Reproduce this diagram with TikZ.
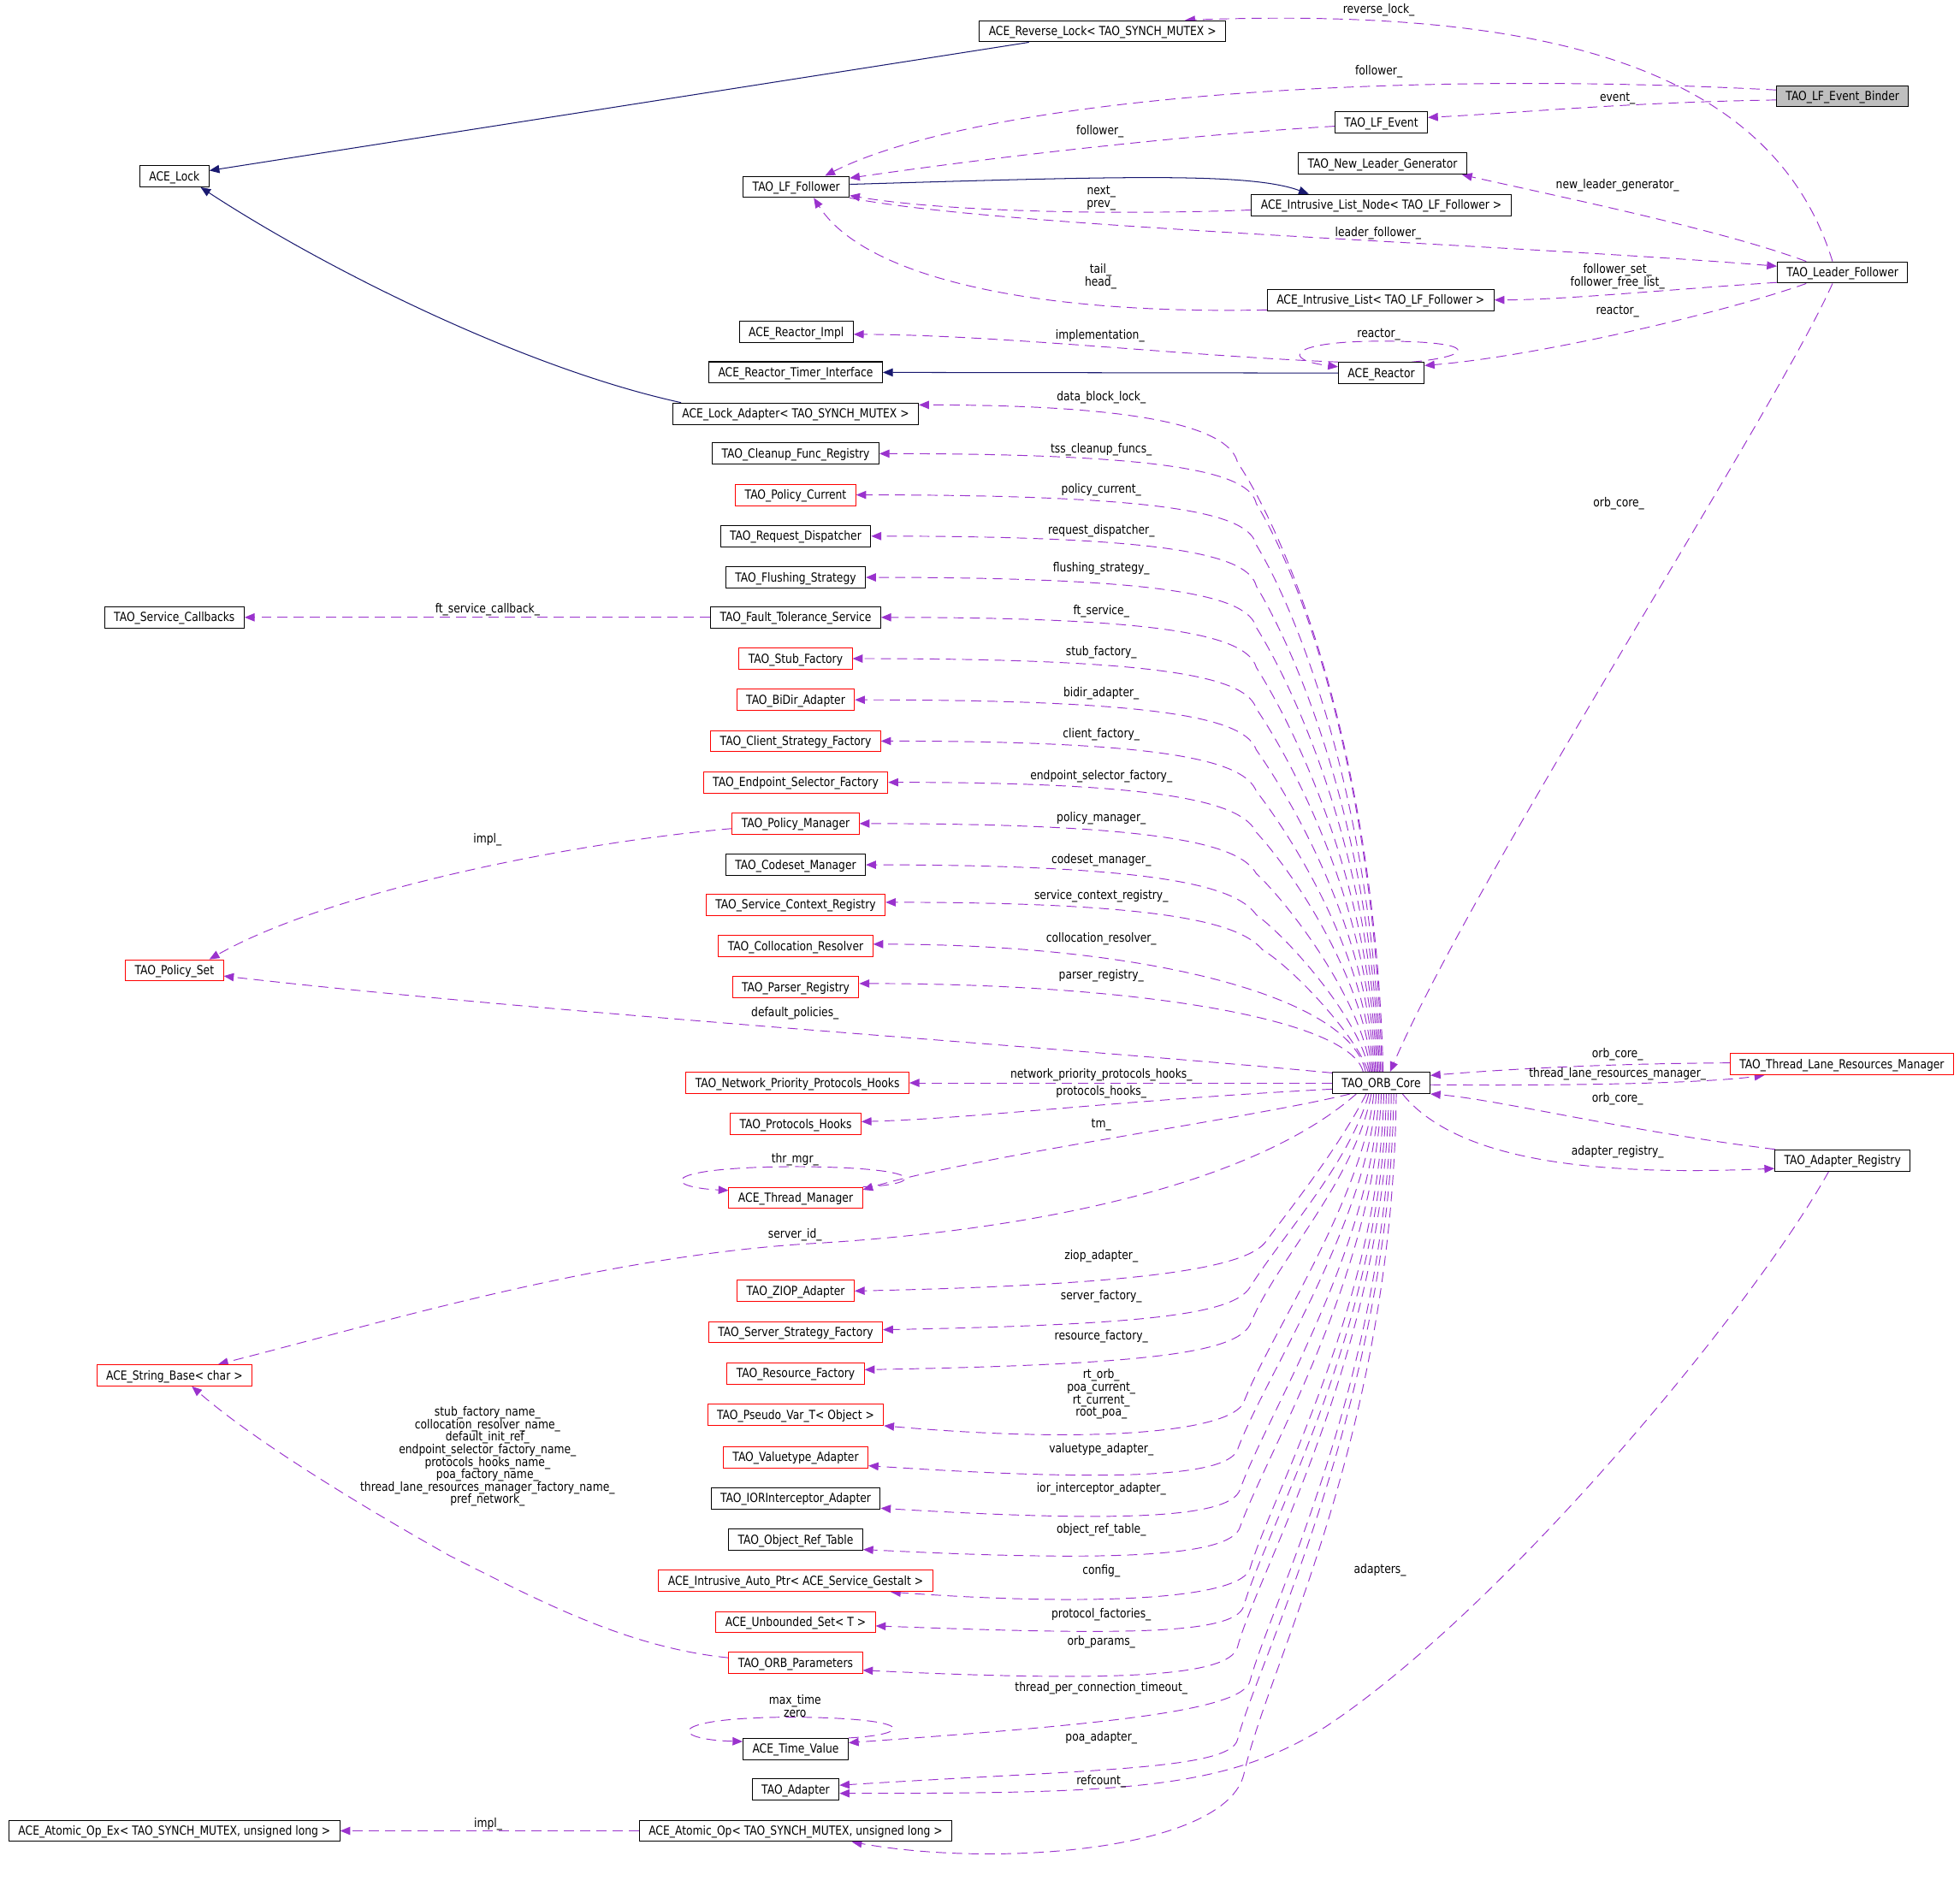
\documentclass[tikz,border=0pt]{standalone}
\usepackage{fontspec}
\setmainfont{DejaVu Sans}[FakeStretch=0.844]
\usetikzlibrary{arrows.meta}
\pgfdeclarelayer{bg}
\pgfsetlayers{bg,main}
\definecolor{membcolor}{HTML}{9A32CD}
\definecolor{inhcolor}{HTML}{191970}
\definecolor{bindergray}{HTML}{BFBFBF}
\tikzset{
  cls/.style={draw=black, fill=white, line width=0.7pt, inner xsep=7.5pt, inner ysep=0pt,
    minimum height=17pt, text height=8.5pt, text depth=1.5pt, font=\fontsize{10}{10}\selectfont},
  redcls/.style={cls, draw=red},
  lbl/.style={inner sep=0pt, align=center, font=\fontsize{10}{10}\selectfont},
  memb/.style={draw=membcolor, line width=0.65pt, dash pattern=on 8pt off 5pt,
    -{Triangle[length=8pt,width=6.5pt]}},
  inh/.style={draw=inhcolor, line width=0.7pt, -{Triangle[length=8pt,width=6.5pt]}},
}
\begin{document}
\begin{tikzpicture}[x=1pt, y=-1pt]
        \useasboundingbox (0,0) rectangle (1568,1509);
        % classes, top part
        \node[cls] (revlock) at (882,25) {ACE\_Reverse\_Lock< TAO\_SYNCH\_MUTEX >};
        \node[cls, fill=bindergray] (binder) at (1474,77) {TAO\_LF\_Event\_Binder};
        \node[cls] (lfevent) at (1105,98) {TAO\_LF\_Event};
        \node[cls] (newleader) at (1106,131) {TAO\_New\_Leader\_Generator};
        \node[cls] (acelock) at (139.5,141) {ACE\_Lock};
        \node[cls] (follower) at (637,149.5) {TAO\_LF\_Follower};
        \node[cls] (listnode) at (1105,164) {ACE\_Intrusive\_List\_Node< TAO\_LF\_Follower >};
        \node[cls] (leader) at (1474,218) {TAO\_Leader\_Follower};
        \node[cls] (flist) at (1104.5,240) {ACE\_Intrusive\_List< TAO\_LF\_Follower >};
        \node[cls] (reactorimpl) at (637,265.5) {ACE\_Reactor\_Impl};
        \node[cls] (timer) at (636.5,298) {ACE\_Reactor\_Timer\_Interface};
        \node[cls] (reactor) at (1105,298.5) {ACE\_Reactor};
        % members of the ORB core
        \node[cls] (lockadapter) at (636.5,331) {ACE\_Lock\_Adapter< TAO\_SYNCH\_MUTEX >};
        \node[cls] (cleanup) at (636.5,363) {TAO\_Cleanup\_Func\_Registry};
        \node[redcls] (policycur) at (636.5,396) {TAO\_Policy\_Current};
        \node[cls] (reqdisp) at (636.5,429) {TAO\_Request\_Dispatcher};
        \node[cls] (flushing) at (636.5,462) {TAO\_Flushing\_Strategy};
        \node[cls] (ftservice) at (636.5,494) {TAO\_Fault\_Tolerance\_Service};
        \node[cls] (callbacks) at (139.5,494) {TAO\_Service\_Callbacks};
        \node[redcls] (stubfac) at (636.5,527) {TAO\_Stub\_Factory};
        \node[redcls] (bidir) at (636.5,560) {TAO\_BiDir\_Adapter};
        \node[redcls] (clientfac) at (636.5,593) {TAO\_Client\_Strategy\_Factory};
        \node[redcls] (endpoint) at (636.5,626) {TAO\_Endpoint\_Selector\_Factory};
        \node[redcls] (policymgr) at (636.5,659) {TAO\_Policy\_Manager};
        \node[cls] (codeset) at (636.5,692) {TAO\_Codeset\_Manager};
        \node[redcls] (svcctx) at (636.5,724) {TAO\_Service\_Context\_Registry};
        \node[redcls] (colloc) at (636.5,757) {TAO\_Collocation\_Resolver};
        \node[redcls] (parser) at (636.5,790) {TAO\_Parser\_Registry};
        \node[redcls] (policyset) at (139.5,776.5) {TAO\_Policy\_Set};
        \node[redcls] (nph) at (638,866.5) {TAO\_Network\_Priority\_Protocols\_Hooks};
        \node[cls] (core) at (1105,866.5) {TAO\_ORB\_Core};
        \node[redcls] (tlrm) at (1473.5,851.5) {TAO\_Thread\_Lane\_Resources\_Manager};
        \node[cls] (registry) at (1474,928.5) {TAO\_Adapter\_Registry};
        \node[redcls] (phooks) at (636.5,899.5) {TAO\_Protocols\_Hooks};
        \node[redcls] (thrmgr) at (636.5,958.5) {ACE\_Thread\_Manager};
        \node[redcls] (ziop) at (636.5,1033) {TAO\_ZIOP\_Adapter};
        \node[redcls] (serverfac) at (636.5,1066) {TAO\_Server\_Strategy\_Factory};
        \node[redcls] (resfac) at (636.5,1099) {TAO\_Resource\_Factory};
        \node[redcls] (pseudo) at (636.5,1132) {TAO\_Pseudo\_Var\_T< Object >};
        \node[redcls] (valuetype) at (636.5,1166) {TAO\_Valuetype\_Adapter};
        \node[cls] (iorint) at (636.5,1199) {TAO\_IORInterceptor\_Adapter};
        \node[cls] (ortable) at (636.5,1232) {TAO\_Object\_Ref\_Table};
        \node[redcls] (autoptr) at (636.5,1265) {ACE\_Intrusive\_Auto\_Ptr< ACE\_Service\_Gestalt >};
        \node[redcls] (uset) at (636.5,1298) {ACE\_Unbounded\_Set< T >};
        \node[redcls] (orbparams) at (636.5,1330.5) {TAO\_ORB\_Parameters};
        \node[redcls] (strbase) at (139.5,1100.5) {ACE\_String\_Base< char >};
        \node[cls] (timevalue) at (636.5,1399.5) {ACE\_Time\_Value};
        \node[cls] (adapter) at (636.5,1432) {TAO\_Adapter};
        \node[cls] (atomic) at (636.5,1465) {ACE\_Atomic\_Op< TAO\_SYNCH\_MUTEX, unsigned long >};
        \node[cls] (atomicex) at (139.5,1465) {ACE\_Atomic\_Op\_Ex< TAO\_SYNCH\_MUTEX, unsigned long >};
        % edge labels
        \node[lbl] (l1) at (1103,8) {reverse\_lock\_};
        \node[lbl] (l2) at (1103,57) {follower\_};
        \node[lbl] (l3) at (1294,79) {event\_};
        \node[lbl] (l4) at (880,105.5) {follower\_};
        \node[lbl] (l5) at (881,158.5) {next\_\\prev\_};
        \node[lbl] (l6) at (1294,148) {new\_leader\_generator\_};
        \node[lbl] (l7) at (1102.5,186.5) {leader\_follower\_};
        \node[lbl] (l8) at (880.5,221) {tail\_\\head\_};
        \node[lbl] (l9) at (1294,221) {follower\_set\_\\follower\_free\_list\_};
        \node[lbl] (l10) at (1294,249) {reactor\_};
        \node[lbl] (l11) at (880,269) {implementation\_};
        \node[lbl] (l12) at (1103,268) {reactor\_};
        \node[lbl] (l13) at (881,318) {data\_block\_lock\_};
        \node[lbl] (l14) at (881,360) {tss\_cleanup\_funcs\_};
        \node[lbl] (l15) at (881,392) {policy\_current\_};
        \node[lbl] (l16) at (881,425) {request\_dispatcher\_};
        \node[lbl] (l17) at (881,455) {flushing\_strategy\_};
        \node[lbl] (l18) at (881,489) {ft\_service\_};
        \node[lbl] (l19) at (390,488) {ft\_service\_callback\_};
        \node[lbl] (l20) at (881,522) {stub\_factory\_};
        \node[lbl] (l21) at (881,555) {bidir\_adapter\_};
        \node[lbl] (l22) at (881,588) {client\_factory\_};
        \node[lbl] (l23) at (881,621) {endpoint\_selector\_factory\_};
        \node[lbl] (l24) at (881,655) {policy\_manager\_};
        \node[lbl] (l25) at (390,672) {impl\_};
        \node[lbl] (l26) at (881,688) {codeset\_manager\_};
        \node[lbl] (l27) at (881,717) {service\_context\_registry\_};
        \node[lbl] (l28) at (881,751) {collocation\_resolver\_};
        \node[lbl] (l29) at (881,781) {parser\_registry\_};
        \node[lbl] (l30) at (1295,403) {orb\_core\_};
        \node[lbl] (l31) at (636,810.5) {default\_policies\_};
        \node[lbl] (l32) at (1294,843.5) {orb\_core\_};
        \node[lbl] (l33) at (881,860) {network\_priority\_protocols\_hooks\_};
        \node[lbl] (l34) at (1294,859.5) {thread\_lane\_resources\_manager\_};
        \node[lbl] (l35) at (881,873.5) {protocols\_hooks\_};
        \node[lbl] (l36) at (1294,879.5) {orb\_core\_};
        \node[lbl] (l37) at (881,900) {tm\_};
        \node[lbl] (l38) at (1294,922) {adapter\_registry\_};
        \node[lbl] (l39) at (636,928) {thr\_mgr\_};
        \node[lbl] (l40) at (636,988) {server\_id\_};
        \node[lbl] (l41) at (881,1005) {ziop\_adapter\_};
        \node[lbl] (l42) at (881,1037) {server\_factory\_};
        \node[lbl] (l43) at (881,1069.5) {resource\_factory\_};
        \node[lbl] (l44) at (881,1115.5) {rt\_orb\_\\poa\_current\_\\rt\_current\_\\root\_poa\_};
        \node[lbl] (l45) at (881,1160) {valuetype\_adapter\_};
        \node[lbl] (l46) at (881,1191.5) {ior\_interceptor\_adapter\_};
        \node[lbl] (l47) at (881,1224.5) {object\_ref\_table\_};
        \node[lbl] (l48) at (1104,1256.5) {adapters\_};
        \node[lbl] (l49) at (881,1257) {config\_};
        \node[lbl] (l50) at (881,1292) {protocol\_factories\_};
        \node[lbl] (l51) at (881,1314) {orb\_params\_};
        \node[lbl] (l52) at (390,1165.5) {stub\_factory\_name\_\\collocation\_resolver\_name\_\\default\_init\_ref\_\\endpoint\_selector\_factory\_name\_\\protocols\_hooks\_name\_\\poa\_factory\_name\_\\thread\_lane\_resources\_manager\_factory\_name\_\\pref\_network\_};
        \node[lbl] (l53) at (881,1350.5) {thread\_per\_connection\_timeout\_};
        \node[lbl] (l54) at (636,1365) {max\_time\\zero};
        \node[lbl] (l55) at (881,1390.5) {poa\_adapter\_};
        \node[lbl] (l56) at (881,1425.5) {refcount\_};
        \node[lbl] (l57) at (390.5,1459.5) {impl\_};
        \begin{pgfonlayer}{bg}
                \fill[white] (0,0) rectangle (1568,1509);
                % inheritance
                \draw[inh] ([xshift=40pt]revlock.south west) -- ([yshift=4.5pt]acelock.east);
                \draw[inh] ([xshift=7pt]lockadapter.north west) .. controls (420,295) and (260,215) .. ([xshift=21pt]acelock.south);
                \draw[inh] (reactor.west) -- (timer.east);
                \draw[inh] ([yshift=2pt]follower.east) .. controls (900,141) and (1000,138) .. ([xshift=-58pt]listnode.north);
                % leader / follower part
                \draw[memb] ([xshift=-8pt]leader.north) .. controls (1420,60) and (1250,5) .. ([xshift=66pt]revlock.north);
                \draw[memb] ([yshift=5pt]binder.west) .. controls (1100,55) and (780,80) .. ([xshift=23pt]follower.north);
                \draw[memb] ([yshift=-3pt]binder.west) .. controls (1300,82) and (1220,90) .. ([yshift=4pt]lfevent.east);
                \draw[memb] ([yshift=-3pt]lfevent.west) .. controls (950,108) and (800,125) .. ([yshift=7pt]follower.east);
                \draw[memb] ([yshift=-4pt]listnode.west) .. controls (900,172) and (760,170) .. ([yshift=-7pt]follower.east);
                \draw[memb] (follower.south east) .. controls (800,182) and (1200,195) .. ([yshift=5pt]leader.west);
                \draw[memb] ([xshift=-29pt]leader.north) .. controls (1380,185) and (1260,160) .. ([xshift=-4pt]newleader.south east);
                \draw[memb] ([yshift=-8pt]leader.west) .. controls (1330,232) and (1250,240) .. (flist.east);
                \draw[memb] ([xshift=-29pt]leader.south) .. controls (1380,250) and (1230,285) .. ([yshift=6pt]reactor.east);
                \draw[memb] ([yshift=-8pt]flist.west) .. controls (820,252) and (690,220) .. ([xshift=14pt]follower.south);
                \draw[memb] (reactor.north west) .. controls (950,285) and (800,268) .. ([yshift=-2pt]reactorimpl.east);
                \draw[memb] ([xshift=-10pt]reactor.north east) .. controls (1180,285) and (1185,273) .. (1105,273)
                        .. controls (1030,273) and (1025,288) .. ([yshift=5pt]reactor.west);
                \draw[memb] ([xshift=-8pt]leader.south) .. controls (1420,330) and (1180,700) .. ([xshift=7pt]core.north);
                % ORB core, upper members
                \draw[memb] ([xshift=1.5pt]core.north) .. controls (1100,600) and (1030,430) .. (990,370) .. controls (984.2,345.7) and (930,324) .. ([yshift=7pt]lockadapter.east);
                \draw[memb] ([xshift=0.5pt]core.north) .. controls (1100,620) and (1040,460) .. (1005,403) .. controls (999.6,378.6) and (940,363) .. (cleanup.east);
                \draw[memb] ([xshift=-0.5pt]core.north) .. controls (1098,640) and (1038,490) .. (1005,436) .. controls (999.3,411.7) and (940,396) .. (policycur.east);
                \draw[memb] ([xshift=-1.5pt]core.north) .. controls (1097,660) and (1036,520) .. (1005,469) .. controls (998.9,444.8) and (940,429) .. (reqdisp.east);
                \draw[memb] ([xshift=-2.5pt]core.north) .. controls (1096,680) and (1035,550) .. (1005,502) .. controls (998.4,477.9) and (940,462) .. (flushing.east);
                \draw[memb] ([xshift=-3.5pt]core.north) .. controls (1095,700) and (1034,580) .. (1005,534) .. controls (997.9,510) and (940,494) .. (ftservice.east);
                \draw[memb] ([xshift=-4.5pt]core.north) .. controls (1094,720) and (1034,610) .. (1005,567) .. controls (997.2,543.2) and (940,527) .. (stubfac.east);
                \draw[memb] ([xshift=-5.5pt]core.north) .. controls (1093,740) and (1033,640) .. (1005,600) .. controls (996.4,576.5) and (940,560) .. (bidir.east);
                \draw[memb] ([xshift=-6.5pt]core.north) .. controls (1092,760) and (1032,668) .. (1005,633) .. controls (995.5,609.9) and (940,593) .. (clientfac.east);
                \draw[memb] ([xshift=-7.5pt]core.north) .. controls (1091,780) and (1032,695) .. (1005,666) .. controls (994.2,643.5) and (940,626) .. (endpoint.east);
                \draw[memb] ([xshift=-8.5pt]core.north) .. controls (1090,800) and (1030,722) .. (1005,699) .. controls (992.6,677.3) and (940,659) .. (policymgr.east);
                \draw[memb] ([xshift=-9.5pt]core.north) .. controls (1088,815) and (1030,750) .. (1005,732) .. controls (990.5,711.6) and (940,692) .. (codeset.east);
                \draw[memb] ([xshift=-10.5pt]core.north) .. controls (1086,830) and (1035,775) .. (1010,760) .. controls (993.7,741) and (945,722) .. ([yshift=2pt]svcctx.east);
                \draw[memb] ([xshift=-12.5pt]core.north) .. controls (1080,796.8) and (914.7,755.5) .. ([yshift=1.5pt]colloc.east);
                \draw[memb] ([xshift=-14.5pt]core.north) .. controls (1080,815.4) and (909.5,787) .. ([yshift=3pt]parser.east);
                % ORB core, members at its own height
                \draw[memb] ([yshift=8pt]core.west) .. controls (850,838) and (450,812) .. ([yshift=-4.5pt]policyset.east);
                \draw[memb] (core.west) -- (nph.east);
                \draw[memb] ([yshift=-5pt]core.west) .. controls (900,880) and (780,895) .. ([yshift=2pt]phooks.east);
                \draw[memb] ([xshift=-25pt]core.south) .. controls (1000,895) and (780,925) .. ([yshift=6.5pt]thrmgr.east);
                \draw[memb] (thrmgr.north east) .. controls (740,948) and (745,934) .. (636,933.5)
                        .. controls (525,934) and (530,950) .. ([yshift=6pt]thrmgr.west);
                \draw[memb] ([xshift=-20pt]core.south) .. controls (1000,950) and (820,985) .. (650,995)
                        .. controls (480,1005) and (300,1060) .. ([xshift=35pt]strbase.north);
                % ORB core, lower members
                \draw[memb] ([xshift=-12pt]core.south) .. controls (1070,920) and (1030,970) .. (1013,993) .. controls (999,1013.7) and (920,1028) .. (ziop.east);
                \draw[memb] ([xshift=-10pt]core.south) .. controls (1080,930) and (1025,990) .. (1000,1030) .. controls (986.9,1051.3) and (920,1060) .. ([yshift=2pt]serverfac.east);
                \draw[memb] ([xshift=-8pt]core.south) .. controls (1084,945) and (1020,1010) .. (1000,1060) .. controls (988.4,1082.1) and (920,1092) .. ([yshift=3pt]resfac.east);
                \draw[memb] ([xshift=-6pt]core.south) .. controls (1090,960) and (1015,1070) .. (995,1122) .. controls (985.3,1145) and (880,1156) .. (pseudo.south east);
                \draw[memb] ([xshift=-4pt]core.south) .. controls (1094,980) and (1010,1105) .. (990,1160) .. controls (980.9,1183.3) and (880,1185) .. ([yshift=2pt]valuetype.south east);
                \draw[memb] ([xshift=-2pt]core.south) .. controls (1098,1000) and (1012,1135) .. (992,1192) .. controls (983.75,1215.6) and (890,1218) .. ([yshift=1pt]iorint.south east);
                \draw[memb] (core.south) .. controls (1100,1020) and (1012,1165) .. (992,1222) .. controls (984.3,1245.8) and (890,1250) .. ([yshift=1pt]ortable.south east);
                \draw[memb] ([xshift=2pt]core.south) .. controls (1104,1040) and (1018,1195) .. (1000,1255) .. controls (993.2,1279) and (880,1286) .. ([xshift=76pt]autoptr.south);
                \draw[memb] ([xshift=4pt]core.south) .. controls (1106,1060) and (1012,1225) .. (995,1285) .. controls (988.3,1309) and (890,1308) .. ([yshift=-3pt]uset.east);
                \draw[memb] ([xshift=6pt]core.south) .. controls (1108,1080) and (1006,1258) .. (990,1318) .. controls (983.4,1342.1) and (890,1346) .. ([yshift=-6pt]orbparams.east);
                \draw[memb] ([xshift=8pt]core.south) .. controls (1110,1100) and (1016,1285) .. (1000,1345) .. controls (994.2,1369.3) and (880,1380) .. ([yshift=5pt]timevalue.east);
                \draw[memb] ([xshift=10pt]core.south) .. controls (1112,1120) and (1006,1330) .. (990,1392) .. controls (984.1,1416.3) and (870,1416) .. ([yshift=3.5pt]adapter.east);
                \draw[memb] ([xshift=12pt]core.south) .. controls (1114,1150) and (1015,1330) .. (995,1420)
                        .. controls (980,1480) and (800,1495) .. ([xshift=45pt]atomic.south);
                % right hand side
                \draw[memb] ([yshift=1pt]tlrm.west) .. controls (1280,851) and (1200,856) .. ([yshift=6pt]core.east);
                \draw[memb] ([yshift=-1.5pt]core.east) .. controls (1280,869) and (1370,866) .. ([xshift=-62pt]tlrm.south);
                \draw[memb] ([xshift=-54pt]registry.north) .. controls (1300,905) and (1200,880) .. (core.south east);
                \draw[memb] ([xshift=17pt]core.south) .. controls (1170,935) and (1300,940) .. ([yshift=-6.5pt]registry.west);
                \draw[memb] ([xshift=-11pt]registry.south) .. controls (1400,1050) and (1200,1290) .. (1060,1382)
                        .. controls (980,1432) and (900,1435) .. ([yshift=-3pt]adapter.east);
                % left hand side
                \draw[memb] (ftservice.west) -- (callbacks.east);
                \draw[memb] ([yshift=-4pt]policymgr.west) .. controls (450,675) and (260,715) .. ([xshift=28pt]policyset.north);
                \draw[memb] ([yshift=4pt]orbparams.west) .. controls (500,1318) and (430,1280) .. (360,1245)
                        .. controls (280,1200) and (200,1150) .. ([xshift=14pt]strbase.south);
                \draw[memb] (timevalue.north east) .. controls (730,1388) and (735,1375) .. (636,1374)
                        .. controls (530,1374) and (535,1392) .. ([yshift=6pt]timevalue.west);
                \draw[memb] (atomic.west) -- (atomicex.east);
        \end{pgfonlayer}
\end{tikzpicture}
\end{document}
